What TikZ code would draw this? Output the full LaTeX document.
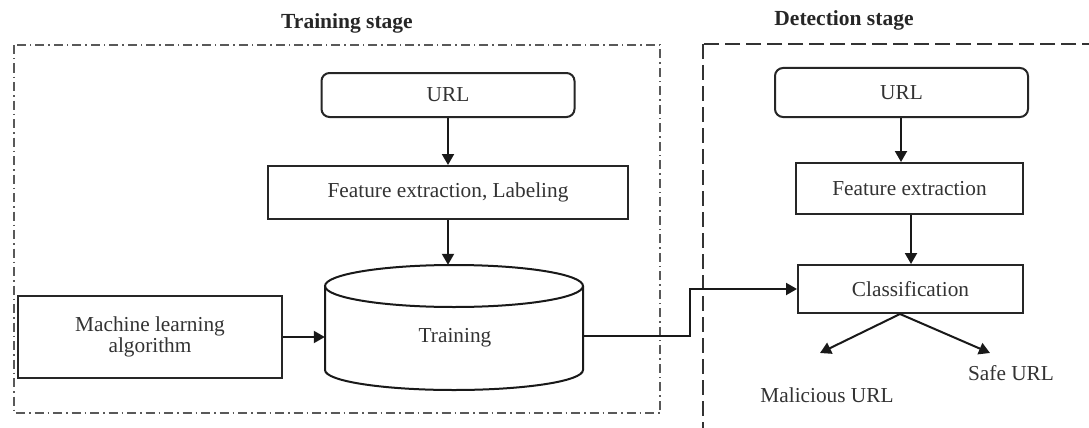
\documentclass[tikz,border=0pt]{standalone}
\usepackage{fontspec}
\setmainfont{Liberation Serif}
\usetikzlibrary{arrows.meta}
\begin{document}
\begin{tikzpicture}[x=1pt,y=-1pt,
  txt/.style={font=\fontsize{21.3}{21.5}\selectfont, text=black!80},
  ttl/.style={font=\fontsize{21.5}{22}\selectfont\bfseries, text=black!85},
  box/.style={draw=black!85, line width=2pt, txt, inner sep=0pt, align=center},
  rbox/.style={box, rounded corners=8pt},
  arr/.style={draw=black!90, line width=2pt, -{Triangle[length=11pt,width=12pt]}},
  ln/.style={draw=black!90, line width=2pt},
  dashdotframe/.style={draw=black!65, line width=1.6pt, dash pattern=on 9pt off 4pt on 1.5pt off 4pt},
  dashframe/.style={draw=black!80, line width=1.6pt, dash pattern=on 15pt off 6pt}]
\useasboundingbox (0,0) rectangle (1089,428);
\clip (0,0) rectangle (1089,428);
\fill[white] (0,0) rectangle (1089,428);

% stage titles
\node[ttl] (ttrain) at (347,23) {Training stage};
\node[ttl] (tdetect) at (844,20) {Detection stage};

% frames
\draw[dashdotframe] (14,45) rectangle (660,413);
\draw[dashframe] (703,44) rectangle (1098,434);

% training stage
\node[rbox, minimum width=253pt, minimum height=44pt] (url1) at (448,95) {URL};
\node[box, minimum width=360pt, minimum height=53pt] (feat1) at (448,192.5) {Feature extraction, Labeling};
\node[box, minimum width=264pt, minimum height=82pt] (ml) at (150,337) {Machine learning\\[-1pt]algorithm};
\node[txt, minimum width=258pt, minimum height=125pt, inner sep=0pt] (train) at (454,327.5) {};
\node[txt] (traintxt) at (455,338) {Training};
% cylinder outline
\draw[ln] (454,286) ellipse [x radius=129pt, y radius=21pt];
\draw[ln] (325,286) -- (325,370) arc[start angle=180, end angle=360, x radius=129pt, y radius=20pt] -- (583,286);

% detection stage
\node[rbox, minimum width=253pt, minimum height=49pt] (url2) at (901.5,92.5) {URL};
\node[box, minimum width=227pt, minimum height=51pt] (feat2) at (909.5,188.5) {Feature extraction};
\node[box, minimum width=225pt, minimum height=48pt] (cls) at (910.5,289) {Classification};
\node[txt] (mal) at (827,395) {Malicious URL};
\node[txt] (safe) at (1011,373) {Safe URL};
\coordinate (malend) at (820,353);
\coordinate (safeend) at (990,353);
\coordinate (split) at ([xshift=-10.5pt]cls.south);

% connectors
\draw[arr] (url1.south) -- (url1.south |- feat1.north);
\draw[arr] (feat1.south) -- (feat1.south |- train.north);
\draw[arr] (ml.east) -- (ml.east -| train.west);
\draw[arr] ([yshift=-8.5pt]train.east) -- ++(107,0) |- (cls.west);
\draw[arr] (url2.south -| 901,0) -- (901,0 |- feat2.north);
\draw[arr] (feat2.south -| 911,0) -- (911,0 |- cls.north);
\draw[arr] (split) -- (malend);
\draw[arr] (split) -- (safeend);
\end{tikzpicture}
\end{document}
